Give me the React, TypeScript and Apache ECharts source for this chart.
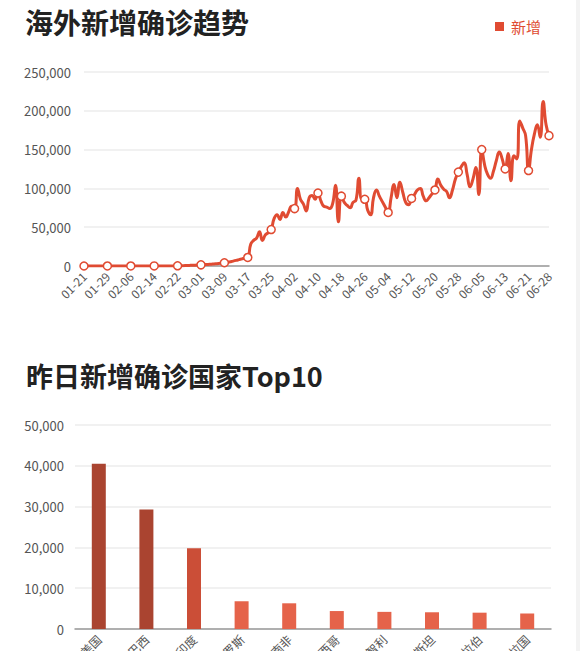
import React, { useEffect, useRef } from "react";
import * as echarts from "echarts";

const START_MONTH = 1;
const START_DAY = 21;
const DAY_COUNT = 160;
const MONTH_LENGTHS = [31, 29, 31, 30, 31, 30];

const pad = (n: number) => (n < 10 ? "0" + n : "" + n);
const dates: string[] = [];
{
  let m = START_MONTH;
  let d = START_DAY;
  for (let i = 0; i < DAY_COUNT; i++) {
    dates.push(pad(m) + "-" + pad(d));
    d++;
    if (d > MONTH_LENGTHS[m - 1]) {
      d = 1;
      m++;
    }
  }
}

const newCases: number[] = [
  5, 8, 10, 15, 20, 25, 30, 35,
  40, 45, 50, 55, 60, 70, 80, 90,
  50, 60, 70, 60, 80, 70, 60, 50,
  80, 90, 100, 120, 110, 130, 150, 180,
  250, 350, 450, 600, 750, 900, 1100, 1300,
  1500, 1800, 2000, 2200, 2500, 2800, 3200, 3700,
  4200, 4700, 5500, 6300, 7200, 8200, 9200, 10200,
  11000, 28000, 33000, 36000, 44000, 33000, 40000, 43000,
  47000, 61000, 66000, 60000, 69000, 63000, 70000, 77000,
  74000, 100000, 86000, 80000, 71000, 88000, 91000, 86000,
  94000, 84000, 77000, 76000, 74000, 80000, 104000, 57000,
  90000, 82000, 78000, 75000, 82000, 85000, 113000, 86000,
  86000, 72000, 66000, 88000, 98000, 90000, 83000, 76000,
  69000, 88000, 105000, 88000, 108000, 95000, 82000, 79000,
  87000, 92000, 98000, 100000, 90000, 84000, 88000, 93000,
  98000, 112000, 104000, 99000, 96000, 88000, 98000, 112000,
  121000, 128000, 133000, 118000, 102000, 112000, 127000, 92000,
  150000, 130000, 118000, 113000, 122000, 136000, 147000, 138000,
  125000, 145000, 110000, 142000, 138000, 187000, 178000, 168000,
  123000, 150000, 170000, 182000, 166000, 212000, 182000, 168000,
];

const countries: string[] = [
  "美国", "巴西", "印度", "俄罗斯", "南非",
  "墨西哥", "智利", "巴基斯坦", "沙特阿拉伯", "孟加拉国",
];
const countryNew: number[] = [40500, 29300, 19800, 6800, 6300, 4400, 4200, 4100, 4000, 3800];
const barColors: string[] = [
  "#aa4430", "#aa4430", "#cb4e37",
  "#e5634a", "#e5634a", "#e5634a", "#e5634a", "#e5634a", "#e5634a", "#e5634a",
];

const lineTicks = { max: 250000, interval: 50000 };
const barTicks = { max: 50000, interval: 10000 };

const LINE_COLOR = "#e04b32";
const FONT = "'Noto Sans CJK SC', 'Noto Sans', sans-serif";

export default function App() {
  const ref = useRef<HTMLDivElement>(null);
  useEffect(() => {
    if (!ref.current) return;
    const chart = echarts.init(ref.current, undefined, { renderer: "svg" });
    const fmt = (v: number) => v.toLocaleString("en-US");
    chart.setOption({
      animation: false,
      backgroundColor: "#ffffff",
      textStyle: { fontFamily: FONT },
      title: [
        {
          text: "海外新增确诊趋势",
          left: 20,
          top: 3,
          textStyle: { fontSize: 28, fontWeight: "bold", color: "#222", fontFamily: FONT },
        },
        {
          text: "昨日新增确诊国家Top10",
          left: 21,
          top: 357,
          textStyle: { fontSize: 27, fontWeight: "bold", color: "#222", fontFamily: FONT },
        },
      ],
      legend: {
        data: ["新增"],
        right: 34,
        top: 14,
        icon: "rect",
        itemWidth: 9,
        itemHeight: 9,
        itemGap: 8,
        itemStyle: { color: LINE_COLOR, borderWidth: 0 },
        textStyle: { color: LINE_COLOR, fontSize: 15, fontFamily: FONT, padding: [0, 0, 0, 2] },
      },
      grid: [
        { left: 84, right: 31, top: 72, bottom: 385, containLabel: false, outerBoundsMode: "none" },
        { left: 75, right: 29, top: 425, bottom: 22, containLabel: false, outerBoundsMode: "none" },
      ],
      xAxis: [
        {
          type: "category",
          gridIndex: 0,
          data: dates,
          boundaryGap: false,
          axisLine: { lineStyle: { color: "#999", width: 1.5 } },
          axisTick: { show: false },
          axisLabel: {
            interval: 7,
            showMaxLabel: true,
            rotate: 45,
            color: "#555",
            fontSize: 12,
            margin: 8,
          },
          splitLine: { show: false },
        },
        {
          type: "category",
          gridIndex: 1,
          data: countries,
          axisLine: { lineStyle: { color: "#999", width: 1.5 } },
          axisTick: { show: false },
          axisLabel: { interval: 0, rotate: 45, color: "#555", fontSize: 12, margin: 8 },
        },
      ],
      yAxis: [
        {
          type: "value",
          gridIndex: 0,
          min: 0,
          max: lineTicks.max,
          interval: lineTicks.interval,
          axisLine: { show: false },
          axisTick: { show: false },
          axisLabel: { color: "#555", fontSize: 13, margin: 13, formatter: fmt },
          splitLine: { lineStyle: { color: "#ececec", width: 1.5 } },
        },
        {
          type: "value",
          gridIndex: 1,
          min: 0,
          max: barTicks.max,
          interval: barTicks.interval,
          axisLine: { show: false },
          axisTick: { show: false },
          axisLabel: { color: "#555", fontSize: 13, margin: 11, formatter: fmt },
          splitLine: { lineStyle: { color: "#ececec", width: 1.5 } },
        },
      ],
      series: [
        {
          name: "新增",
          type: "line",
          xAxisIndex: 0,
          yAxisIndex: 0,
          data: newCases,
          smooth: true,
          symbol: "circle",
          symbolSize: 8,
          showSymbol: true,
          lineStyle: { color: LINE_COLOR, width: 3 },
          itemStyle: { color: "#fff", borderColor: LINE_COLOR, borderWidth: 1.5 },
        },
        {
          name: "昨日新增",
          type: "bar",
          xAxisIndex: 1,
          yAxisIndex: 1,
          barWidth: 14,
          data: countryNew.map((v, i) => ({ value: v, itemStyle: { color: barColors[i] } })),
        },
      ],
      graphic: [
        {
          type: "rect",
          right: 0,
          top: 0,
          shape: { width: 4, height: 651 },
          style: { fill: "#f3f3f3" },
          silent: true,
        },
      ],
    });
    return () => chart.dispose();
  }, []);
  return (
    <div
      ref={ref}
      style={{ position: "absolute", left: 0, top: 0, width: 580, height: 651, background: "#fff" }}
    />
  );
}
